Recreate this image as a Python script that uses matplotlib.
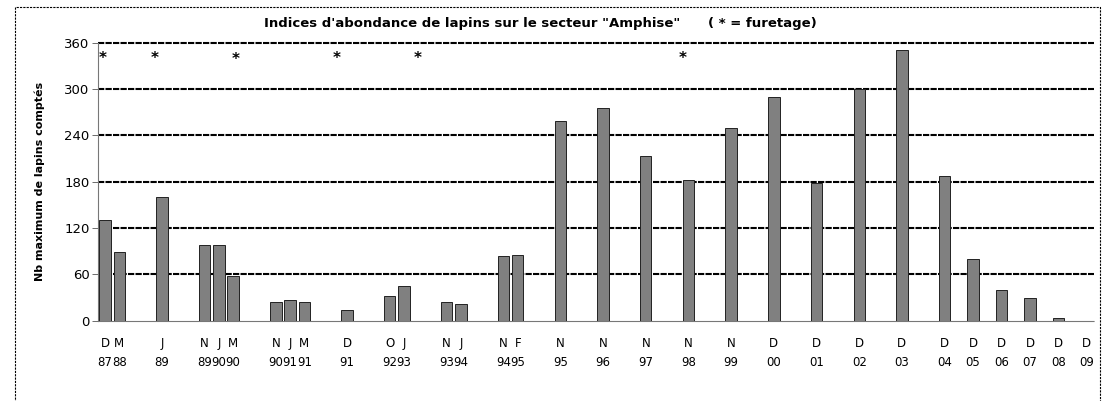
import numpy as np
import matplotlib
matplotlib.use('Agg')
import matplotlib.pyplot as plt
from matplotlib.patches import Rectangle

# donnees : position du releve (creneau sur l'axe), valeur, mois, annee
slots = [0, 1, 4, 7, 8, 9, 12, 13, 14, 17, 20, 21, 24, 25, 28, 29, 32, 35, 38,
         41, 44, 47, 50, 53, 56, 59, 61, 63, 65, 67, 69]
values = [130, 89, 160, 98, 98, 58, 24, 27, 24, 14, 32, 45, 24, 21, 84, 85, 258,
          275, 213, 182, 250, 290, 178, 300, 351, 187, 80, 40, 29, 3, 0]
months = ['D', 'M', 'J', 'N', 'J', 'M', 'N', 'J', 'M', 'D', 'O', 'J', 'N', 'J',
          'N', 'F', 'N', 'N', 'N', 'N', 'N', 'D', 'D', 'D', 'D', 'D', 'D', 'D',
          'D', 'D', 'D']
years = ['87', '88', '89', '89', '90', '90', '90', '91', '91', '91', '92', '93',
         '93', '94', '94', '95', '95', '96', '97', '98', '99', '00', '01', '02',
         '03', '04', '05', '06', '07', '08', '09']
n_slots = 70

# furetage (*)
star_x = [-0.15, 3.5, 9.15, 16.3, 22.0, 40.6]
star_y = [340, 340, 338, 340, 340, 340]

fig = plt.figure(figsize=(11.06, 4.01), dpi=100)
ax = fig.add_axes([98/1106, 80.3/401, 996/1106, 278/401])

ax.bar(slots, values, width=0.8, color='#808080', edgecolor='#222222',
       linewidth=0.7, zorder=3)

for yv in range(60, 361, 60):
    ax.axhline(yv, color='black', linewidth=1.5, linestyle=(0, (3, 0.6)),
               zorder=1, clip_on=False)

ax.set_xlim(-0.5, n_slots - 0.5)
ax.set_ylim(0, 360)
ax.set_yticks(range(0, 361, 60))
ax.tick_params(axis='y', labelsize=9.5, length=4, width=0.6, color='#555555', pad=2)
ax.set_xticks([])

for s in ['top', 'right']:
    ax.spines[s].set_visible(False)
ax.spines['left'].set_linestyle((0, (2, 1)))
ax.spines['left'].set_color('#777777')
ax.spines['left'].set_linewidth(0.8)
ax.spines['bottom'].set_linestyle((0, (2, 1)))
ax.spines['bottom'].set_color('#777777')
ax.spines['bottom'].set_linewidth(0.8)

for x, m, a in zip(slots, months, years):
    ax.text(x, -29, m, ha='center', va='center', fontsize=8.5, clip_on=False)
    ax.text(x, -54, a, ha='center', va='center', fontsize=8.5, clip_on=False)

for x, y in zip(star_x, star_y):
    ax.text(x, y, '*', ha='center', va='center', fontsize=11, fontweight='bold')

ax.set_ylabel('Nb maximum de lapins comptés', fontsize=8, fontweight='bold', labelpad=14)

fig.text(540/1106, 1 - 24/401,
         'Indices d\'abondance de lapins sur le secteur "Amphise"      ( * = furetage)',
         ha='center', va='center', fontsize=9.5, fontweight='bold')

# cadre du graphique
fig.patches.append(Rectangle((15/1106, -0.05), 1085/1106, 1.05 - 7/401,
                             transform=fig.transFigure, fill=False,
                             edgecolor='black', linewidth=0.8,
                             linestyle=(0, (2, 1))))

fig.savefig('out.png', dpi=100)
